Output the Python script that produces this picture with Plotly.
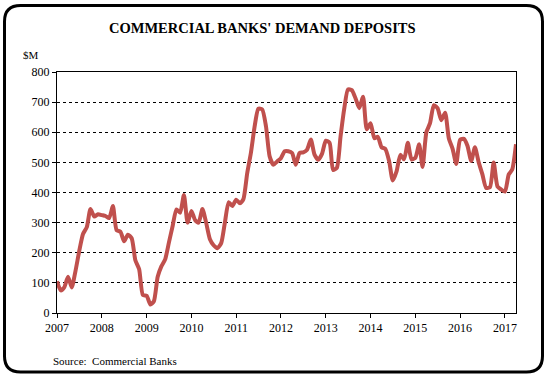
import pandas as pd
import plotly.graph_objects as go

# ---- data (monthly, $M) ----
start_month = "2007-01-01"
v2007 = [105, 75, 85, 120, 85, 140, 205, 262, 285, 345, 320, 328]
v2008 = [325, 322, 315, 355, 275, 270, 238, 260, 248, 175, 145, 60]
v2009 = [57, 28, 39, 120, 155, 178, 233, 289, 344, 333, 392, 300]
v2010 = [339, 308, 300, 345, 300, 245, 225, 215, 232, 300, 368, 355]
v2011 = [376, 364, 378, 464, 531, 620, 678, 676, 620, 520, 492, 503]
v2012 = [514, 537, 537, 531, 492, 531, 533, 542, 576, 526, 509, 528]
v2013 = [572, 565, 475, 482, 585, 680, 742, 740, 712, 680, 718, 610]
v2014 = [630, 580, 585, 550, 545, 505, 440, 470, 525, 510, 565, 510]
v2015 = [515, 560, 485, 600, 630, 690, 680, 640, 665, 580, 545, 495]
v2016 = [575, 578, 555, 505, 550, 500, 460, 415, 418, 500, 420, 410]
v2017 = [403, 460, 476, 560]
values = v2007 + v2008 + v2009 + v2010 + v2011 + v2012 + v2013 + v2014 + v2015 + v2016 + v2017
dates = pd.date_range(start_month, periods=len(values), freq="MS")

title_text = "COMMERCIAL BANKS' DEMAND DEPOSITS"
unit_text = "$M"
source_text = "Source:  Commercial Banks"
y_ticks = [0, 100, 200, 300, 400, 500, 600, 700, 800]

# ---- layout geometry (pixels) ----
W, H = 545, 374
L, R, T, B = 57, 516, 72, 313
pw, ph = R - L, B - T

def px(x, y):
    return (x - L) / pw, (B - y) / ph

def rounded_rect(x0, y0, x1, y1, r):
    def P(x, y):
        a, b = px(x, y)
        return f"{a:.5f},{b:.5f}"
    d = f"M {P(x0 + r, y0)} L {P(x1 - r, y0)} Q {P(x1, y0)} {P(x1, y0 + r)} "
    d += f"L {P(x1, y1 - r)} Q {P(x1, y1)} {P(x1 - r, y1)} "
    d += f"L {P(x0 + r, y1)} Q {P(x0, y1)} {P(x0, y1 - r)} "
    d += f"L {P(x0, y0 + r)} Q {P(x0, y0)} {P(x0 + r, y0)} Z"
    return d

FONT = "Liberation Serif, Times New Roman, serif"

fig = go.Figure()
fig.add_trace(go.Scatter(
    x=dates, y=values, mode="lines",
    line=dict(color="#C0504D", width=4, shape="spline", smoothing=0.6),
    hoverinfo="skip", showlegend=False,
))

fig.update_layout(
    width=W, height=H,
    margin=dict(l=L, r=W - R, t=T, b=H - B),
    paper_bgcolor="white", plot_bgcolor="white",
    font=dict(family=FONT, size=12, color="black"),
    showlegend=False,
    xaxis=dict(
        type="date",
        range=["2007-01-01", "2017-04-01"],
        dtick="M12", tick0="2007-01-01", tickformat="%Y",
        ticks="outside", ticklen=4, tickcolor="black", tickwidth=1,
        showline=True, linecolor="black", linewidth=1, mirror=True,
        showgrid=False, zeroline=False,
        tickfont=dict(family=FONT, size=12, color="black"),
    ),
    yaxis=dict(
        range=[0, 800], tickvals=y_ticks,
        ticks="outside", ticklen=4, tickcolor="black", tickwidth=1,
        showline=True, linecolor="black", linewidth=1, mirror=True,
        showgrid=True, gridcolor="black", gridwidth=1, griddash="dot",
        zeroline=False,
        tickfont=dict(family=FONT, size=12, color="black"),
    ),
)

tx, ty = px(262, 28)
fig.add_annotation(x=tx, y=ty, xref="paper", yref="paper", text=f"<b>{title_text}</b>",
                   showarrow=False, font=dict(family=FONT, size=14.5, color="black"),
                   xanchor="center", yanchor="middle")
ux, uy = px(21, 55)
fig.add_annotation(x=ux, y=uy, xref="paper", yref="paper", text=unit_text,
                   showarrow=False, font=dict(family=FONT, size=11, color="black"),
                   xanchor="left", yanchor="middle")
sx, sy = px(51, 361)
fig.add_annotation(x=sx, y=sy, xref="paper", yref="paper", text=source_text,
                   showarrow=False, font=dict(family=FONT, size=11, color="black"),
                   xanchor="left", yanchor="middle")

fig.add_shape(type="path", xref="paper", yref="paper",
              path=rounded_rect(4.5, 5.5, 542.5, 372, 16),
              line=dict(color="black", width=3), fillcolor="rgba(0,0,0,0)", layer="above")

fig.write_html("out.html", config={"displayModeBar": False},
               post_script="document.body.style.margin='0';")
